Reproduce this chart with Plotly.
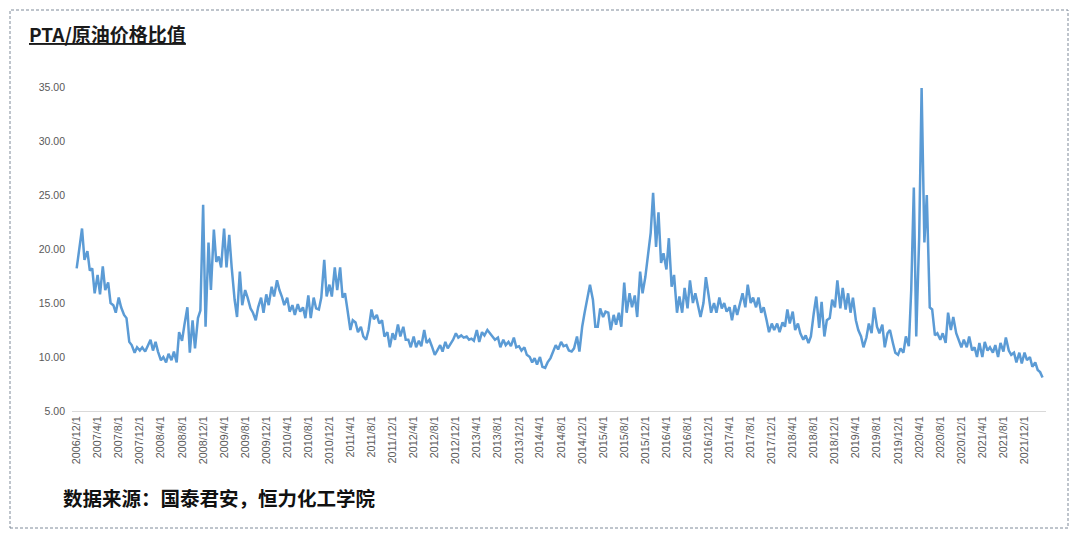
import pandas as pd
import plotly.graph_objects as go

# PTA / crude oil price ratio, two readings per month (1st and 15th)
r2006 = [18.2, 20.0]
r2007 = [21.9, 19.0, 19.8, 18.0, 18.2, 15.9, 17.6, 15.8, 18.4, 16.2, 16.9, 15.0,
         14.8, 14.1, 15.5, 14.6, 13.9, 13.6, 11.4, 11.1, 10.4, 10.9, 10.6, 10.9]
r2008 = [10.5, 11.0, 11.6, 10.6, 11.4, 10.5, 9.7, 10.0, 9.5, 10.3, 9.7, 10.5,
         9.5, 12.3, 11.5, 13.0, 14.6, 10.4, 13.4, 10.8, 13.6, 14.3, 24.1, 12.8]
r2009 = [20.6, 16.2, 21.8, 18.8, 19.3, 18.3, 21.9, 18.3, 21.3, 18.3, 15.3, 13.7,
         17.9, 14.8, 16.2, 15.5, 14.5, 14.1, 13.4, 14.6, 15.5, 14.1, 15.8, 14.8]
r2010 = [16.5, 15.6, 17.1, 16.2, 15.6, 14.8, 15.5, 14.2, 14.8, 13.9, 14.9, 14.2,
         14.6, 13.6, 15.7, 13.6, 15.5, 14.5, 14.4, 15.5, 19.0, 15.6, 16.7, 15.6]
r2011 = [18.3, 16.2, 18.3, 15.5, 15.9, 14.4, 12.5, 13.4, 13.2, 12.3, 12.8, 11.9,
         11.6, 12.5, 14.4, 13.5, 13.9, 13.1, 13.4, 11.9, 12.3, 10.9, 12.2, 11.6]
r2012 = [13.0, 11.9, 12.8, 11.6, 11.6, 10.9, 11.9, 10.9, 11.5, 11.0, 12.5, 11.3,
         11.6, 11.0, 10.2, 10.6, 11.1, 10.5, 11.4, 10.8, 11.2, 11.6, 12.2, 11.8]
r2013 = [12.0, 11.8, 11.9, 11.6, 11.7, 11.5, 12.5, 11.4, 12.3, 12.0, 12.5, 12.2,
         11.9, 11.6, 11.8, 10.9, 11.6, 11.1, 11.4, 11.0, 11.8, 10.9, 11.0, 10.6]
r2014 = [10.9, 10.2, 10.0, 9.5, 9.9, 9.3, 10.0, 9.1, 9.0, 9.5, 9.9, 10.4,
         11.1, 10.7, 11.4, 11.0, 11.1, 10.6, 10.5, 10.8, 11.9, 10.5, 12.8, 14.1]
r2015 = [15.6, 16.7, 15.3, 12.8, 12.8, 14.5, 13.7, 14.2, 14.1, 12.5, 13.9, 13.0,
         14.1, 12.8, 16.9, 14.1, 15.9, 14.6, 15.7, 13.7, 17.9, 15.9, 17.4, 19.2]
r2016 = [21.5, 25.2, 20.2, 23.4, 18.7, 19.6, 18.1, 21.0, 16.5, 17.6, 14.1, 15.6,
         14.1, 16.4, 14.5, 17.1, 15.0, 15.9, 14.6, 13.7, 15.0, 17.4, 15.7, 14.1]
r2017 = [15.0, 14.1, 15.5, 14.5, 15.0, 14.2, 14.6, 13.4, 14.8, 13.9, 15.0, 15.9,
         14.6, 16.7, 15.0, 15.5, 14.6, 15.5, 14.1, 14.6, 13.4, 12.3, 13.1, 12.5]
r2018 = [13.1, 12.3, 13.2, 12.8, 14.4, 13.1, 14.2, 12.5, 13.1, 12.2, 11.6, 12.0,
         11.3, 11.9, 14.1, 15.6, 12.7, 15.1, 11.9, 13.4, 13.6, 15.3, 14.6, 17.1]
r2019 = [14.5, 16.4, 14.4, 15.9, 14.1, 15.5, 13.4, 12.5, 11.9, 10.9, 11.8, 13.1,
         12.2, 14.6, 12.8, 12.2, 13.0, 10.9, 12.2, 12.5, 11.3, 10.4, 10.2, 10.8]
r2020 = [10.4, 11.9, 11.0, 16.2, 25.7, 11.9, 21.1, 34.9, 20.6, 25.0, 14.6, 14.4,
         12.0, 12.2, 11.6, 12.2, 11.3, 14.1, 12.5, 13.7, 12.2, 11.6, 10.9, 11.6]
r2021 = [10.9, 11.9, 10.6, 10.9, 10.0, 11.3, 10.0, 11.4, 10.6, 10.9, 10.4, 11.1,
         10.0, 11.3, 10.5, 11.8, 10.6, 10.2, 10.4, 9.5, 10.4, 9.4, 10.4, 9.7]
r2022 = [10.0, 9.1, 9.5, 8.8, 8.6, 8.1]

tick_labels = [
    "2006/12/1", "2007/4/1", "2007/8/1", "2007/12/1", "2008/4/1", "2008/8/1",
    "2008/12/1", "2009/4/1", "2009/8/1", "2009/12/1", "2010/4/1", "2010/8/1",
    "2010/12/1", "2011/4/1", "2011/8/1", "2011/12/1", "2012/4/1", "2012/8/1",
    "2012/12/1", "2013/4/1", "2013/8/1", "2013/12/1", "2014/4/1", "2014/8/1",
    "2014/12/1", "2015/4/1", "2015/8/1", "2015/12/1", "2016/4/1", "2016/8/1",
    "2016/12/1", "2017/4/1", "2017/8/1", "2017/12/1", "2018/4/1", "2018/8/1",
    "2018/12/1", "2019/4/1", "2019/8/1", "2019/12/1", "2020/4/1", "2020/8/1",
    "2020/12/1", "2021/4/1", "2021/8/1", "2021/12/1",
]
y_ticks = [5, 10, 15, 20, 25, 30, 35]

ratio = (r2006 + r2007 + r2008 + r2009 + r2010 + r2011 + r2012 + r2013 +
         r2014 + r2015 + r2016 + r2017 + r2018 + r2019 + r2020 + r2021 + r2022)
dates = pd.date_range("2006-12-01", periods=len(ratio), freq="SMS")
tick_dates = pd.date_range("2006-12-01", periods=len(tick_labels), freq="4MS")

fig = go.Figure()
fig.add_trace(go.Scatter(
    x=dates, y=ratio, mode="lines",
    line=dict(color="#5b9bd5", width=2.5),
    hoverinfo="skip",
))

# plot area in pixels: left 72, right 1046, top 87, bottom 411
L, R, T, B = 72, 1046, 87, 411
W, H = R - L, B - T


def px(x):
    return (x - L) / W


def py(y):
    return (B - y) / H


fig.update_layout(
    width=1080, height=540,
    margin=dict(l=L, r=1080 - R, t=T, b=540 - B, pad=0),
    paper_bgcolor="white", plot_bgcolor="white",
    showlegend=False,
    font=dict(family="Liberation Sans", color="#595959"),
    xaxis=dict(
        type="date",
        range=["2006-11-04", "2022-04-04"],
        tickmode="array", tickvals=tick_dates, ticktext=tick_labels,
        tickangle=-90, tickfont=dict(size=10.8, color="#595959"),
        showline=True, linecolor="#d9d9d9", linewidth=1,
        showgrid=False, zeroline=False, ticks="",
    ),
    yaxis=dict(
        range=[5, 35],
        tickmode="array", tickvals=y_ticks, tickformat=".2f",
        tickfont=dict(size=10.5, color="#595959"),
        ticklabelstandoff=6,
        showline=False, showgrid=False, zeroline=False, ticks="",
    ),
    shapes=[dict(
        type="rect", xref="paper", yref="paper",
        x0=px(10), x1=px(1068), y0=py(528), y1=py(10),
        line=dict(color="#7f8a99", width=1, dash="3px,2px"),
        fillcolor="rgba(0,0,0,0)", layer="below",
    )],
    annotations=[
        dict(
            text="PTA/原油价格比值", xref="paper", yref="paper",
            x=px(27), y=py(34), xanchor="left", yanchor="middle",
            showarrow=False,
            font=dict(family="Noto Sans CJK SC", size=19, color="#1a1a1a",
                      weight="bold", lineposition="under"),
        ),
        dict(
            text="数据来源：国泰君安，恒力化工学院", xref="paper", yref="paper",
            x=px(61), y=py(497), xanchor="left", yanchor="middle",
            showarrow=False,
            font=dict(family="Noto Sans CJK SC", size=19.5, color="#111111",
                      weight="bold"),
        ),
    ],
)

fig.write_html("out.html")
